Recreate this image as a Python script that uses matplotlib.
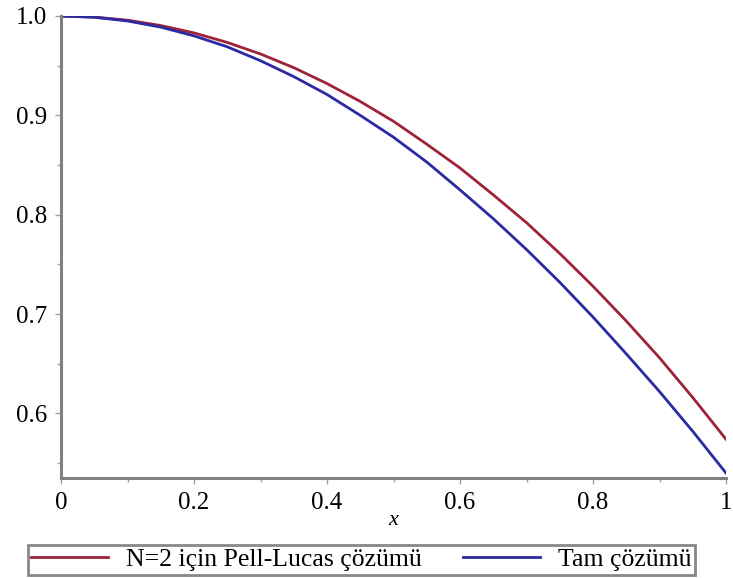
import matplotlib
matplotlib.use("Agg")
import matplotlib.pyplot as plt
from matplotlib.ticker import MultipleLocator

x_vals = [0.0, 0.05, 0.1, 0.15, 0.2, 0.25, 0.3, 0.35, 0.4, 0.45, 0.5,
          0.55, 0.6, 0.65, 0.7, 0.75, 0.8, 0.85, 0.9, 0.95, 1.0]
pell_lucas = [1.0, 0.9989, 0.9958, 0.9904, 0.983, 0.9734, 0.9618, 0.948, 0.932, 0.914, 0.894,
              0.871, 0.847, 0.820, 0.792, 0.761, 0.728, 0.693, 0.656, 0.616, 0.574]
exact = [1.0, 0.99875, 0.995, 0.9888, 0.980, 0.969, 0.955, 0.939, 0.921, 0.900, 0.878,
         0.853, 0.825, 0.796, 0.765, 0.732, 0.697, 0.660, 0.622, 0.582, 0.540]
labels = ["N=2 için Pell-Lucas çözümü", "Tam çözümü"]
x_ticks = [0, 0.2, 0.4, 0.6, 0.8, 1]
x_ticklabels = ["0", "0.2", "0.4", "0.6", "0.8", "1"]
y_ticks = [0.6, 0.7, 0.8, 0.9, 1.0]
y_ticklabels = ["0.6", "0.7", "0.8", "0.9", "1.0"]

plt.rcParams['font.family'] = ['Liberation Serif', 'DejaVu Serif']
fig = plt.figure(figsize=(7.33, 5.78), dpi=100)
ax = fig.add_axes([61/733, 1 - 478/578, (726-61)/733, (478-16)/578])

red = "#9E2238"
blue = "#2A2AA2"
ax.plot(x_vals, pell_lucas, color=red, lw=2.0, label=labels[0])
ax.plot(x_vals, exact, color=blue, lw=2.0, label=labels[1])

ax.set_xlim(0, 1)
ax.set_ylim(0.535, 1.0)
for s in ["top", "right"]:
    ax.spines[s].set_visible(False)
for s in ["left", "bottom"]:
    ax.spines[s].set_color("#808080")
    ax.spines[s].set_linewidth(2.2)

ax.set_xticks(x_ticks)
ax.set_xticklabels(x_ticklabels)
ax.set_yticks(y_ticks)
ax.set_yticklabels(y_ticklabels)
ax.xaxis.set_minor_locator(MultipleLocator(0.1))
ax.yaxis.set_minor_locator(MultipleLocator(0.05))
ax.tick_params(axis='both', which='major', labelsize=18, color="#a0a0a0", length=4, width=1, pad=6)
ax.tick_params(axis='both', which='minor', color="#a0a0a0", length=3, width=1)
ax.set_xlabel("x", fontsize=16, style='italic', labelpad=-2)

leg = fig.legend(loc='lower center', bbox_to_anchor=(0.493, 0.006), ncol=2, fontsize=18.5,
                 frameon=True, fancybox=False, edgecolor="#6a6a6a", handlelength=3.0,
                 borderpad=0.12, borderaxespad=0.0, columnspacing=1.6, handletextpad=0.7)
leg.get_frame().set_linewidth(2.0)

fig.savefig("out.png", dpi=100)
